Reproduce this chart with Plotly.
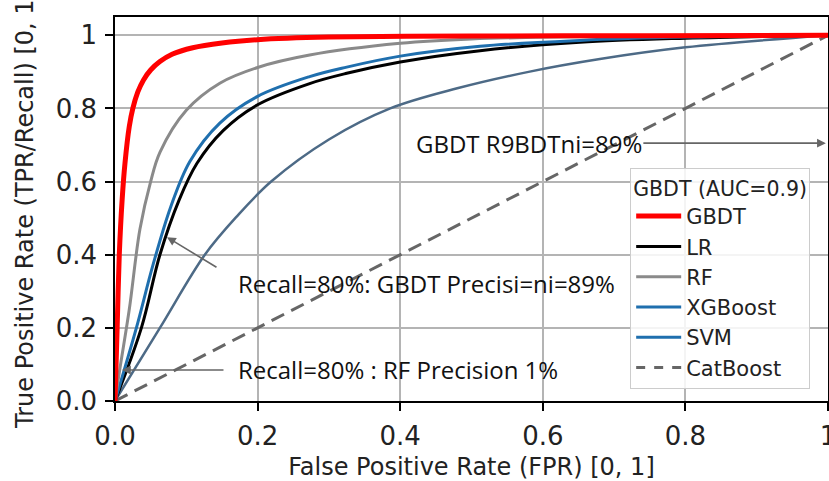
import plotly.graph_objects as go

# ---- data ----
gbdt_fpr = [0, 0.003, 0.006, 0.01, 0.014, 0.02, 0.025, 0.032, 0.04, 0.05, 0.063, 0.08, 0.109, 0.15, 0.2, 0.3, 0.5, 0.75, 1]
gbdt_tpr = [0, 0.2, 0.4, 0.55, 0.65, 0.75, 0.8, 0.845, 0.878, 0.905, 0.928, 0.948, 0.966, 0.979, 0.988, 0.995, 0.998, 0.999, 1]

lr_fpr = [0, 0.037, 0.063, 0.09, 0.115, 0.152, 0.2, 0.273, 0.325, 0.4, 0.512, 0.652, 0.8, 1]
lr_tpr = [0, 0.2, 0.4, 0.55, 0.65, 0.74, 0.81, 0.868, 0.896, 0.927, 0.958, 0.981, 0.992, 1]

rf_fpr = [0, 0.007, 0.02, 0.035, 0.05, 0.063, 0.1, 0.147, 0.2, 0.273, 0.4, 0.5, 0.7, 1]
rf_tpr = [0, 0.09, 0.25, 0.47, 0.6, 0.68, 0.795, 0.869, 0.912, 0.946, 0.978, 0.99, 0.997, 1]

xgb_fpr = [0, 0.03, 0.053, 0.078, 0.105, 0.147, 0.2, 0.273, 0.325, 0.4, 0.512, 0.652, 0.8, 1]
xgb_tpr = [0, 0.2, 0.37, 0.53, 0.655, 0.76, 0.833, 0.887, 0.913, 0.943, 0.97, 0.986, 0.995, 1]

svm_fpr = [0, 0.063, 0.126, 0.171, 0.219, 0.3, 0.386, 0.48, 0.58, 0.68, 0.8, 1]
svm_tpr = [0, 0.2, 0.4, 0.505, 0.6, 0.715, 0.8, 0.855, 0.9, 0.935, 0.967, 1]

chance_fpr = [0, 1]
chance_tpr = [0, 1]

tick_vals = [0, 0.2, 0.4, 0.6, 0.8, 1]
tick_text = ["0.0", "0.2", "0.4", "0.6", "0.8", "1"]

legend_title = "GBDT (AUC=0.9)"

TICK_FONT = dict(family="DejaVu Sans", size=26, color="#222222")
ANN_FONT = dict(family="Open Sans", size=24, color="#111111")

fig = go.Figure()

fig.add_trace(go.Scatter(x=chance_fpr, y=chance_tpr, mode="lines", name="CatBoost",
                         line=dict(color="#666666", width=3, dash="14px,8px"), showlegend=False,
                         legendgroup="cat"))
fig.add_trace(go.Scatter(x=svm_fpr, y=svm_tpr, mode="lines", name="SVM",
                         line=dict(color="#4d6a86", width=2.5, shape="spline", smoothing=1),
                         showlegend=False, legendgroup="svm"))
fig.add_trace(go.Scatter(x=lr_fpr, y=lr_tpr, mode="lines", name="LR",
                         line=dict(color="#000000", width=3, shape="spline", smoothing=1),
                         showlegend=False, legendgroup="lr"))
fig.add_trace(go.Scatter(x=xgb_fpr, y=xgb_tpr, mode="lines", name="XGBoost",
                         line=dict(color="#1f6fae", width=3, shape="spline", smoothing=1),
                         showlegend=False, legendgroup="xgb"))
fig.add_trace(go.Scatter(x=rf_fpr, y=rf_tpr, mode="lines", name="RF",
                         line=dict(color="#8a8a8a", width=3, shape="spline", smoothing=1),
                         showlegend=False, legendgroup="rf"))
fig.add_trace(go.Scatter(x=gbdt_fpr, y=gbdt_tpr, mode="lines", name="GBDT",
                         line=dict(color="#ff0000", width=5, shape="spline", smoothing=0.8),
                         showlegend=False, legendgroup="gbdt"))

# legend entries (in the reference order)
legend_items = [("GBDT", "#ff0000", 5, "solid", "gbdt"),
                ("LR", "#000000", 3, "solid", "lr"),
                ("RF", "#8a8a8a", 3, "solid", "rf"),
                ("XGBoost", "#1f6fae", 3, "solid", "xgb"),
                ("SVM", "#1f6fae", 3, "solid", "svm"),
                ("CatBoost", "#666666", 3, "dash", "cat")]
for name, col, w, dash, grp in legend_items:
    fig.add_trace(go.Scatter(x=[None], y=[None], mode="lines", name=name, legendgroup=grp,
                             line=dict(color=col, width=w, dash=dash)))

axis_common = dict(
    tickvals=tick_vals, ticktext=tick_text, tickfont=TICK_FONT,
    showgrid=True, gridcolor="#b4b4b4", gridwidth=1.5,
    showline=True, linecolor="#000000", linewidth=1.5, mirror=True,
    ticks="outside", ticklen=8, tickwidth=1.5, tickcolor="#000000",
    zeroline=False, fixedrange=True, ticklabeloverflow="allow",
)

fig.update_xaxes(range=[0, 1], automargin=False,
                 title=dict(text="False Positive Rate (FPR) [0, 1]",
                            font=dict(family="DejaVu Sans", size=24, color="#222222"), standoff=10),
                 ticklabelstandoff=3, **axis_common)
fig.update_yaxes(range=[0, 1.05], automargin=False,
                 title=dict(text="True Positive Rate (TPR/Recall) [0, 1]",
                            font=dict(family="DejaVu Sans", size=24, color="#222222")),
                 ticklabelstandoff=3, **axis_common)

arrow_style = dict(showarrow=True, arrowhead=2, arrowsize=1.1, arrowwidth=1.6,
                   arrowcolor="#666666", xref="x", yref="y")

fig.add_annotation(x=0.997, y=0.705, ax=-297, ay=0, text="GBDT R9BDTni=89%",
                   font=ANN_FONT, **arrow_style)
fig.add_annotation(x=0.0729, y=0.448, ax=51, ay=31, text="", **arrow_style)
fig.add_annotation(x=0.0098, y=0.0847, ax=103, ay=0, text="", **arrow_style)
fig.add_annotation(x=0.1697, y=0.32, text="Recall=80%: GBDT Precisi=ni=89%",
                   xanchor="left", yanchor="middle", showarrow=False, font=ANN_FONT,
                   xref="x", yref="y")
fig.add_annotation(x=0.1697, y=0.0874, text="Recall=80% : RF Precision 1%",
                   xanchor="left", yanchor="middle", showarrow=False, font=ANN_FONT,
                   xref="x", yref="y")

fig.update_layout(
    width=829, height=481,
    margin=dict(l=115, r=1, t=17, b=80),
    paper_bgcolor="white", plot_bgcolor="white",
    showlegend=True,
    legend=dict(
        title=dict(text=legend_title, font=dict(family="DejaVu Sans", size=20.5, color="#222222")),
        font=dict(family="DejaVu Sans", size=21, color="#222222"),
        x=0.975, xanchor="right", y=0.606, yanchor="top",
        bgcolor="rgba(255,255,255,0.85)", bordercolor="#cccccc", borderwidth=1,
        tracegroupgap=0, itemwidth=45,
    ),
)

fig.write_html("out.html")
